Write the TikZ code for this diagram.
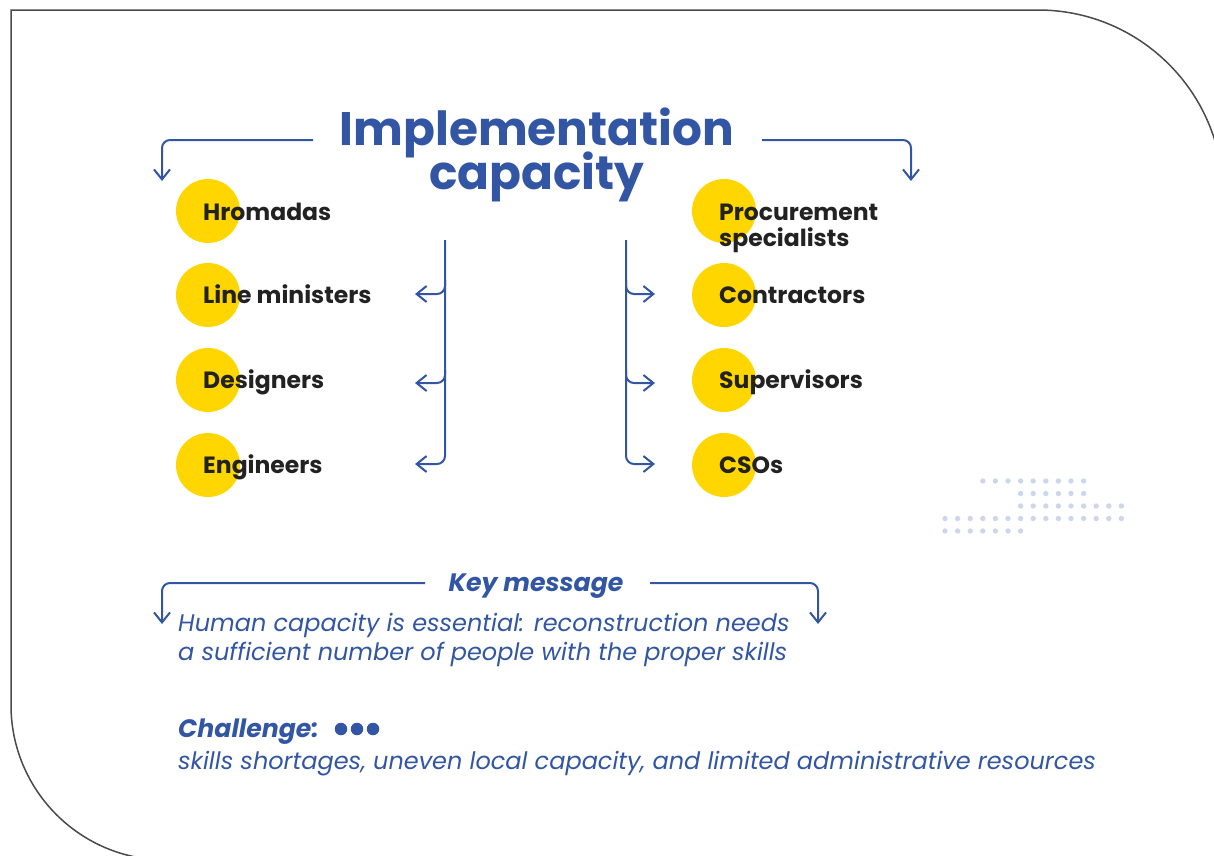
\documentclass[tikz,border=0pt]{standalone}
\usepackage{fontspec}
\setmainfont{Poppins}
\usetikzlibrary{arrows.meta}
\definecolor{myblue}{HTML}{3256A3}
\definecolor{myyellow}{HTML}{FFD600}
\definecolor{labelgray}{HTML}{222222}
\definecolor{dotblue}{HTML}{CCD6EC}
\definecolor{framegray}{HTML}{4A4A4A}
\begin{document}
\begin{tikzpicture}[x=1pt,y=-1pt,
  conn/.style={draw=myblue,line width=2pt,rounded corners=8pt,-{Straight Barb[length=10pt,width=16pt,line width=2pt]}},
  disc/.style={circle,fill=myyellow,minimum size=64pt,inner sep=0pt},
  lbl/.style={anchor=base west,text=labelgray,font=\fontsize{23.5}{27}\selectfont\bfseries,inner sep=0pt},
  ttl/.style={anchor=base,text=myblue,font=\fontsize{47}{47}\selectfont\bfseries,inner sep=0pt},
  itx/.style={anchor=base west,text=myblue,font=\fontsize{24}{28}\selectfont\itshape,inner sep=0pt},
  bit/.style={text=myblue,font=\fontsize{25.2}{28}\selectfont\bfseries\itshape,inner sep=0pt},
  dot/.style={circle,fill=dotblue,minimum size=5.4pt,inner sep=0pt},
  bdot/.style={circle,fill=myblue,minimum size=12.5pt,inner sep=0pt}]
\useasboundingbox (0,0) rectangle (1214,855);
\clip (0,0) rectangle (1214,855);
% frame
\draw[framegray,line width=1.5pt] (166,860) arc[start angle=90,end angle=180,radius=155]
  -- (11,10) -- (1038,10) arc[start angle=-90,end angle=0,radius=185];
% title
\node[ttl] (t1) at (537,145) {Implementation};
\node[ttl] (t2) at (537,189) {capacity};
% top connectors
\coordinate (tl) at (313,140);
\coordinate (tla) at (162,181);
\coordinate (tr) at (762,140);
\coordinate (tra) at (911,181);
\draw[conn] (tl) -| (tla);
\draw[conn] (tr) -| (tra);
% discs
\node[disc] (d1) at (208,211) {};
\node[disc] (d2) at (208,295) {};
\node[disc] (d3) at (208,380) {};
\node[disc] (d4) at (208,465) {};
\node[disc] (e1) at (724,211) {};
\node[disc] (e2) at (724,295) {};
\node[disc] (e3) at (724,380) {};
\node[disc] (e4) at (724,465) {};
% labels
\node[lbl] (l1) at (203,220) {Hromadas};
\node[lbl] (l2) at (203,303) {Line ministers};
\node[lbl] (l3) at (203,388) {Designers};
\node[lbl] (l4) at (203,473) {Engineers};
\node[lbl] (r1) at (719,220) {Procurement};
\node[lbl] (r1b) at (719,246) {specialists};
\node[lbl] (r2) at (719,303) {Contractors};
\node[lbl] (r3) at (719,388) {Supervisors};
\node[lbl] (r4) at (719,473) {CSOs};
% left bracket
\coordinate (lt) at (445,240);
\coordinate (lb1) at (445,280);
\coordinate (lb2) at (445,370);
\coordinate (la1) at (415,294);
\coordinate (la2) at (415,383);
\coordinate (la3) at (415,464);
\draw[conn] (lt) |- (la3);
\draw[conn] (lb1) |- (la1);
\draw[conn] (lb2) |- (la2);
% right bracket
\coordinate (rt) at (626,240);
\coordinate (rb1) at (626,280);
\coordinate (rb2) at (626,370);
\coordinate (ra1) at (655,294);
\coordinate (ra2) at (655,383);
\coordinate (ra3) at (655,464);
\draw[conn] (rt) |- (ra3);
\draw[conn] (rb1) |- (ra1);
\draw[conn] (rb2) |- (ra2);
% dot pattern
\foreach \c in {3,...,11} \node[dot] at ({945+12.6*\c},481) {};
\foreach \c in {6,...,11} \node[dot] at ({945+12.6*\c},493.5) {};
\foreach \c in {6,...,14} \node[dot] at ({945+12.6*\c},506) {};
\foreach \c in {0,...,14} \node[dot] at ({945+12.6*\c},518.5) {};
\foreach \c in {0,...,6} \node[dot] at ({945+12.6*\c},531) {};
% key message
\node[bit,anchor=base] (km) at (536,591) {Key message};
\coordinate (kl) at (425,583);
\coordinate (kla) at (162,624);
\coordinate (kr) at (650,583);
\coordinate (kra) at (818,624);
\draw[conn] (kl) -| (kla);
\draw[conn] (kr) -| (kra);
\node[itx] (m1) at (178,631) {Human capacity is essential: reconstruction needs};
\node[itx] (m2) at (178,660) {a sufficient number of people with the proper skills};
% challenge
\node[bit,anchor=base west] (ch) at (178,737) {Challenge:};
\node[bdot] (c1) at (341,729) {};
\node[bdot] (c2) at (357,729) {};
\node[bdot] (c3) at (373,729) {};
\node[itx] (s1) at (178,769) {skills shortages, uneven local capacity, and limited administrative resources};
\end{tikzpicture}
\end{document}
